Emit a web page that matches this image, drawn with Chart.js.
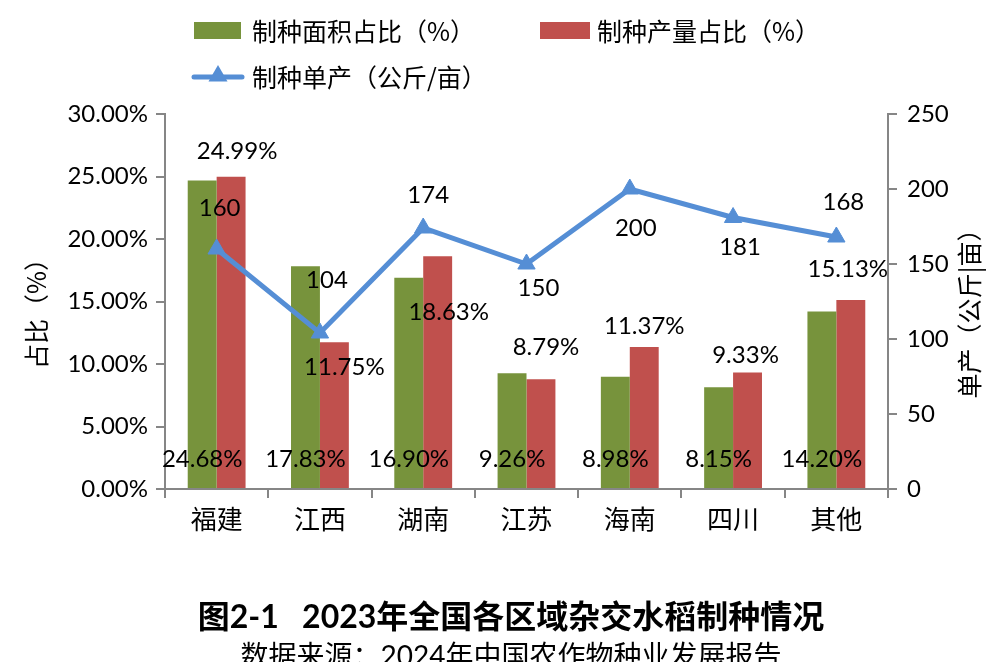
<!DOCTYPE html>
<html>
<head>
<meta charset="utf-8">
<script src="https://cdn.jsdelivr.net/npm/chart.js@4.4.0/dist/chart.umd.min.js"></script>
<style>
html, body { margin: 0; padding: 0; background: #fff; }
canvas { display: block; }
</style>
</head>
<body>
<canvas id="chart" width="993" height="662"></canvas>
<script>
// 数据
const regions = ['福建', '江西', '湖南', '江苏', '海南', '四川', '其他'];
const areaShare = [24.68, 17.83, 16.90, 9.26, 8.98, 8.15, 14.20];     // 制种面积占比 %
const outputShare = [24.99, 11.75, 18.63, 8.79, 11.37, 9.33, 15.13];  // 制种产量占比 %
const unitYield = [160, 104, 174, 150, 200, 181, 168];                // 公斤/亩
const leftTicks = [0, 5, 10, 15, 20, 25, 30];
const rightTicks = [0, 50, 100, 150, 200, 250];

// 标签的手动偏移(像素), 原图里的标签是一个个拖过去的
const outputLabelOffset = [[6, -25], [10, 25], [11, 56], [5, -32], [0, -21], [-2, -17], [-3, -31]];
const yieldLabelOffset = [[3, -41], [7, -53], [5, -33], [12, 24], [6, 39], [7, 30], [7, -35]];

const GREEN = '#77933C';
const RED = '#C0504D';
const BLUE = '#558ED5';
const AXIS = '#868686';
const NUM_FONT = 'Lato, "Noto Sans CJK SC", sans-serif';
const CJK_FONT = '"Noto Sans CJK SC", sans-serif';

function drawTriangle(ctx, x, y, r) {
    ctx.beginPath();
    ctx.moveTo(x, y - r);
    ctx.lineTo(x + r * 0.866, y + r * 0.5);
    ctx.lineTo(x - r * 0.866, y + r * 0.5);
    ctx.closePath();
    ctx.fill();
}

const extras = {
    id: 'extras',
    afterDatasetsDraw(chart) {
        const ctx = chart.ctx;
        ctx.save();
        ctx.font = '24px ' + NUM_FONT;
        ctx.fillStyle = '#000';
        ctx.textAlign = 'center';
        ctx.textBaseline = 'middle';
        // 面积占比 -> 柱子底部
        chart.getDatasetMeta(0).data.forEach((bar, i) => {
            ctx.fillText(areaShare[i].toFixed(2) + '%', bar.x, bar.base - 29);
        });
        // 产量占比
        chart.getDatasetMeta(1).data.forEach((bar, i) => {
            const [dx, dy] = outputLabelOffset[i];
            ctx.fillText(outputShare[i].toFixed(2) + '%', bar.x + dx, bar.y + dy);
        });
        // 单产
        chart.getDatasetMeta(2).data.forEach((pt, i) => {
            const [dx, dy] = yieldLabelOffset[i];
            ctx.fillText(String(unitYield[i]), pt.x + dx, pt.y + dy);
        });
        ctx.restore();
    },
    afterDraw(chart) {
        const ctx = chart.ctx;
        const area = chart.chartArea;
        const ds = chart.data.datasets;
        ctx.save();

        // 图例
        ctx.font = '25px ' + CJK_FONT;
        ctx.textAlign = 'left';
        ctx.textBaseline = 'middle';
        ctx.fillStyle = ds[0].backgroundColor;
        ctx.fillRect(194, 22, 47, 17);
        ctx.fillStyle = '#000';
        ctx.fillText(ds[0].label, 252, 31);
        ctx.fillStyle = ds[1].backgroundColor;
        ctx.fillRect(540, 22, 50, 17);
        ctx.fillStyle = '#000';
        ctx.fillText(ds[1].label, 597, 31);
        ctx.strokeStyle = ds[2].borderColor;
        ctx.lineWidth = 5;
        ctx.lineCap = 'round';
        ctx.beginPath();
        ctx.moveTo(194, 77);
        ctx.lineTo(242, 77);
        ctx.stroke();
        ctx.fillStyle = ds[2].borderColor;
        drawTriangle(ctx, 218, 76, 11);
        ctx.fillStyle = '#000';
        ctx.fillText(ds[2].label, 252, 77);

        // 坐标轴标题
        const midY = (area.top + area.bottom) / 2 + 6;
        ctx.textAlign = 'center';
        ctx.font = '25px ' + CJK_FONT;
        ctx.save();
        ctx.translate(36, midY);
        ctx.rotate(-Math.PI / 2);
        ctx.fillText('占比（%）', 0, 0);
        ctx.restore();
        ctx.save();
        ctx.translate(969, midY);
        ctx.rotate(-Math.PI / 2);
        ctx.fillText('单产（公斤|亩）', 0, 0);
        ctx.restore();

        // 图题
        ctx.font = 'bold 32px ' + NUM_FONT;
        ctx.fillText('图2-1   2023年全国各区域杂交水稻制种情况', 511, 618);
        ctx.font = '28px ' + NUM_FONT;
        ctx.fillText('数据来源：2024年中国农作物种业发展报告', 511, 657);

        ctx.restore();
    }
};

const ctx = document.getElementById('chart').getContext('2d');
new Chart(ctx, {
    type: 'bar',
    data: {
        labels: regions,
        datasets: [{
            label: '制种面积占比（%）',
            data: areaShare,
            backgroundColor: GREEN,
            yAxisID: 'y',
            categoryPercentage: 0.56,
            barPercentage: 1.0,
            order: 2
        }, {
            label: '制种产量占比（%）',
            data: outputShare,
            backgroundColor: RED,
            yAxisID: 'y',
            categoryPercentage: 0.56,
            barPercentage: 1.0,
            order: 2
        }, {
            type: 'line',
            label: '制种单产（公斤/亩）',
            data: unitYield,
            yAxisID: 'y1',
            borderColor: BLUE,
            backgroundColor: BLUE,
            borderWidth: 5,
            tension: 0,
            pointStyle: 'triangle',
            pointRadius: 10,
            pointBackgroundColor: BLUE,
            pointBorderColor: BLUE,
            pointBorderWidth: 1,
            order: 1
        }]
    },
    options: {
        responsive: false,
        animation: false,
        layout: { padding: { top: 114, left: 0, right: 0, bottom: 0 } },
        plugins: {
            legend: { display: false },
            tooltip: { enabled: false },
            title: { display: false }
        },
        scales: {
            x: {
                grid: { display: true, drawOnChartArea: false, drawTicks: true, tickLength: 9, color: AXIS, lineWidth: 2, offset: true },
                border: { color: AXIS, width: 2 },
                ticks: { color: '#000', font: { family: CJK_FONT, size: 26 }, padding: 6 },
                afterFit(scale) { scale.height = 662 - 489; }
            },
            y: {
                position: 'left',
                min: 0,
                max: 30,
                afterBuildTicks(scale) { scale.ticks = leftTicks.map(v => ({ value: v })); },
                grid: { display: true, drawOnChartArea: false, drawTicks: true, tickLength: 9, color: AXIS, lineWidth: 2 },
                border: { color: AXIS, width: 2 },
                ticks: {
                    color: '#000',
                    font: { family: NUM_FONT, size: 24 },
                    padding: 8,
                    callback: v => Number(v).toFixed(2) + '%'
                },
                afterFit(scale) { scale.width = 165; }
            },
            y1: {
                position: 'right',
                min: 0,
                max: 250,
                afterBuildTicks(scale) { scale.ticks = rightTicks.map(v => ({ value: v })); },
                grid: { display: true, drawOnChartArea: false, drawTicks: true, tickLength: 9, color: AXIS, lineWidth: 2 },
                border: { color: AXIS, width: 2 },
                ticks: { color: '#000', font: { family: NUM_FONT, size: 24 }, padding: 10 },
                afterFit(scale) { scale.width = 993 - 888; }
            }
        }
    },
    plugins: [extras]
});
</script>
</body>
</html>
